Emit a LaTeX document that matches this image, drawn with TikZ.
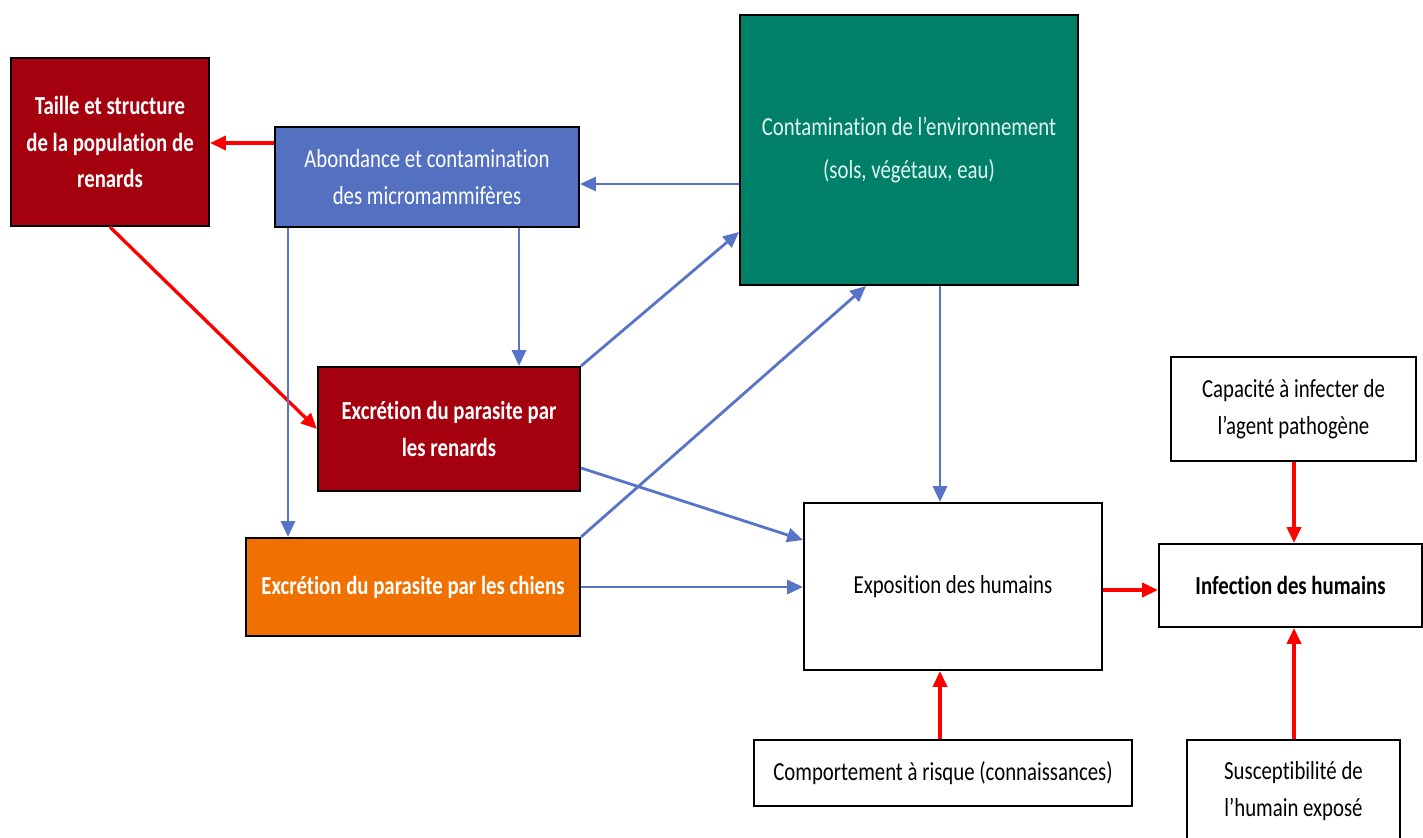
\documentclass[tikz,border=0pt]{standalone}
\usepackage{fontspec}
\setmainfont{Carlito}[FakeStretch=0.8,RawFeature={-liga}]
\usetikzlibrary{arrows.meta}
\definecolor{dred}{RGB}{165,0,14}
\definecolor{bluebox}{RGB}{84,112,193}
\definecolor{envgreen}{RGB}{0,128,104}
\definecolor{orng}{RGB}{240,112,0}
\definecolor{arrblue}{RGB}{88,116,200}
\definecolor{arrred}{RGB}{255,0,0}
\definecolor{envtext}{RGB}{225,245,238}
\begin{document}
\begin{tikzpicture}[x=0.02cm,y=-0.02cm,
  box/.style={draw=black,line width=1.2pt,align=center,inner sep=0pt,font=\fontsize{14.8}{21}\selectfont},
  boldbox/.style={box,font=\fontsize{14.8}{21}\selectfont\bfseries},
  bluearr/.style={draw=arrblue,line width=1.6pt,-{Triangle[length=9pt,width=8pt]}},
  redarr/.style={draw=arrred,line width=1.9pt,-{Triangle[length=9pt,width=8pt]}}]
\useasboundingbox (0,0) rectangle (1423,838);
\clip (0,0) rectangle (1423,838);
\node[boldbox,fill=dred,text=white,minimum width=3.96cm,minimum height=3.36cm] (taille) at (110,142) {Taille et structure\\de la population de\\renards};
\node[box,fill=bluebox,text=white,minimum width=6.08cm,minimum height=2.0cm] (abon) at (427,177) {Abondance et contamination\\des micromammifères};
\node[box,fill=envgreen,text=envtext,minimum width=6.76cm,minimum height=5.4cm] (env) at (909,150) {Contamination de l’environnement\\[3pt](sols, végétaux, eau)};
\node[boldbox,fill=dred,text=white,minimum width=5.24cm,minimum height=2.48cm] (renards) at (449,429) {Excrétion du parasite par\\les renards};
\node[boldbox,fill=orng,text=white,minimum width=6.68cm,minimum height=1.96cm] (chiens) at (413,587) {Excrétion du parasite par les chiens};
\node[box,fill=white,minimum width=5.96cm,minimum height=3.34cm] (expo) at (953,586.5) {Exposition des humains};
\node[box,fill=white,minimum width=4.9cm,minimum height=2.08cm] (cap) at (1293.5,409) {Capacité à infecter de\\l’agent pathogène};
\node[boldbox,fill=white,minimum width=5.26cm,minimum height=1.66cm] (infect) at (1290.5,585.5) {Infection des humains};
\node[box,fill=white,minimum width=7.56cm,minimum height=1.32cm] (comp) at (943,773) {Comportement à risque (connaissances)};
\node[box,fill=white,minimum width=4.26cm,minimum height=2.04cm] (susc) at (1293.5,791) {Susceptibilité de\\l’humain exposé};
% connectors
\draw[redarr] (abon.west |- 0,143) -- (taille.east |- 0,143);
\draw[redarr] (taille.south) -- (renards.west);
\draw[bluearr] (env.west |- 0,184) -- (abon.east |- 0,184);
\draw[bluearr] (abon.south -| 519,0) -- (renards.north -| 519,0);
\draw[bluearr] (abon.south -| 288,0) -- (chiens.north -| 288,0);
\draw[bluearr] (renards.north east) -- (env.west |- 0,232);
\draw[bluearr] (chiens.north east) -- (env.south -| 866,0);
\draw[bluearr] (renards.east |- 0,468) -- (expo.west |- 0,540);
\draw[bluearr] (chiens.east) -- (chiens.east -| expo.west);
\draw[bluearr] (env.south -| 940,0) -- (expo.north -| 940,0);
\draw[redarr] (expo.east |- 0,590) -- (infect.west |- 0,590);
\draw[redarr] (cap.south -| 1294,0) -- (infect.north -| 1294,0);
\draw[redarr] (comp.north -| 940,0) -- (expo.south -| 940,0);
\draw[redarr] (susc.north -| 1294,0) -- (infect.south -| 1294,0);
\end{tikzpicture}
\end{document}
